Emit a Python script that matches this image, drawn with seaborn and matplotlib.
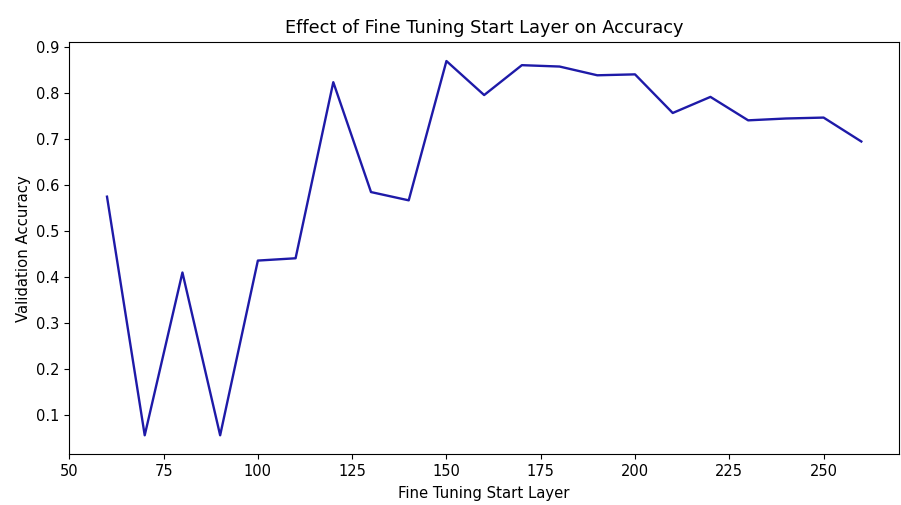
import matplotlib
matplotlib.use("Agg")
import matplotlib.pyplot as plt
import seaborn as sns
import pandas as pd

start_layers = [60, 70, 80, 90, 100, 110, 120, 130, 140, 150, 160,
                170, 180, 190, 200, 210, 220, 230, 240, 250, 260]
val_accuracy = [0.575, 0.056, 0.410, 0.056, 0.436, 0.441, 0.824, 0.585, 0.567, 0.870, 0.796,
                0.861, 0.858, 0.839, 0.841, 0.757, 0.792, 0.741, 0.745, 0.747, 0.695]

df = pd.DataFrame({"layer": start_layers, "acc": val_accuracy})

fig = plt.figure(figsize=(9.01, 5.05), dpi=100)
ax = fig.add_axes([0.0769, 0.101, 0.9209, 0.8152])
sns.lineplot(data=df, x="layer", y="acc", ax=ax, color="#1e1aa8", linewidth=1.7)
ax.set_xticks([50, 75, 100, 125, 150, 175, 200, 225, 250])
ax.set_yticks([0.1, 0.2, 0.3, 0.4, 0.5, 0.6, 0.7, 0.8, 0.9])
ax.set_title("Effect of Fine Tuning Start Layer on Accuracy", fontsize=12.8, pad=7)
ax.set_xlabel("Fine Tuning Start Layer", fontsize=10.7, labelpad=5)
ax.set_ylabel("Validation Accuracy", fontsize=10.7)
ax.tick_params(labelsize=10.5)
fig.savefig("out.png", dpi=100)
